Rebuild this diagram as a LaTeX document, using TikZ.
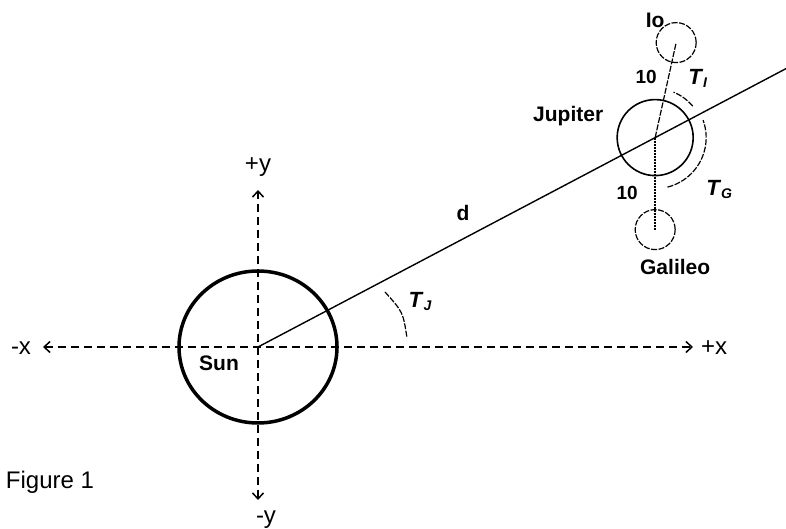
\documentclass[tikz,border=0pt]{standalone}
\usepackage{fontspec}
\setmainfont{Liberation Sans}
\usetikzlibrary{calc, positioning}
\usetikzlibrary{arrows.meta}

\begin{document}
\begin{tikzpicture}[x=1pt,y=1pt,
  axis/.style={line width=1.5pt,dash pattern=on 8pt off 5pt,
    {Straight Barb[length=6pt,width=11pt]}-{Straight Barb[length=6pt,width=11pt]}},
  orbit/.style={line width=1.2pt,dash pattern=on 6pt off 1.5pt},
  dotline/.style={line width=1.4pt,dash pattern=on 2pt off 1pt},
  bodylabel/.style={font=\fontsize{21}{25}\selectfont\bfseries,inner sep=0pt},
  axlabel/.style={font=\fontsize{24}{28}\selectfont,inner sep=0pt}]
\def\ang{27.8}
\def\dist{449}
\newcommand{\Tsub}[1]{{\bfseries\itshape T\kern1.5pt\raisebox{-3pt}{\fontsize{14}{14}\selectfont #1}}}
\useasboundingbox (-258,-182) rectangle (528,347);

\coordinate (S) at (0,0);
\coordinate (J) at (\ang:\dist);
\coordinate (E) at (\ang:600);
\coordinate (I) at ($(J)+(21,95)$);
\coordinate (G) at ($(J)+(0,-92)$);
\coordinate (XL) at (-215,0);
\coordinate (XR) at (435,0);
\coordinate (YT) at (0,157);
\coordinate (YB) at (0,-153);

% axes and the sun
\draw[axis] (XL) -- (XR);
\draw[axis] (YB) -- (YT);
\draw[line width=3.5pt] (S) ellipse[x radius=79,y radius=76];

% line to jupiter and the moons
\draw[line width=1.4pt] (S) -- (E);
\draw[line width=1.6pt] (J) circle[radius=38];
\draw[orbit] (J) -- (I);
\draw[dotline] (J) -- (G);
\foreach \P in {I,G}{
  \draw[orbit] (\P) circle[radius=20];
}

% angles
\draw[orbit] ($(J)+(40:49)$) arc[start angle=40,end angle=68,radius=49];
\draw[orbit] ($(J)+(-76:51)$) arc[start angle=-76,end angle=20,radius=51];
\draw[orbit] (127,55) .. controls (145,35) .. (149,9);

\node[axlabel] (xm) at (-237,-1.5) {-x};
\node[axlabel] (xp) at (456,-0.5) {+x};
\node[axlabel] (yp) at (0,180) {+y};
\node[axlabel] (ym) at (8,-173) {-y};
\node[axlabel] (fig) at (-208,-135) {Figure 1};

\node[bodylabel] (sun) at (-39,-16) {Sun};
\node[bodylabel] (dlbl) at (205,134) {d};
\node[bodylabel] (jup) at ($(J)+(-87,22)$) {Jupiter};
\node[bodylabel] (io) at ($(J)+(0,117)$) {Io};
\node[bodylabel] (gal) at ($(J)+(20,-129.5)$) {Galileo};
\node[bodylabel,font=\fontsize{19}{22}\selectfont\bfseries] (ti) at ($(J)+(-9,61)$) {10};
\node[bodylabel,font=\fontsize{19}{22}\selectfont\bfseries] (tg) at ($(J)+(-28,-55)$) {10};

\node[inner sep=0pt,font=\fontsize{22}{26}\selectfont] (TJ) at (162,45) {\Tsub{J}};
\node[inner sep=0pt,font=\fontsize{22}{26}\selectfont] (TI) at ($(J)+(42.5,59)$) {\Tsub{I}};
\node[inner sep=0pt,font=\fontsize{22}{26}\selectfont] (TG) at ($(J)+(64,-52)$) {\Tsub{G}};
\end{tikzpicture}
\end{document}
